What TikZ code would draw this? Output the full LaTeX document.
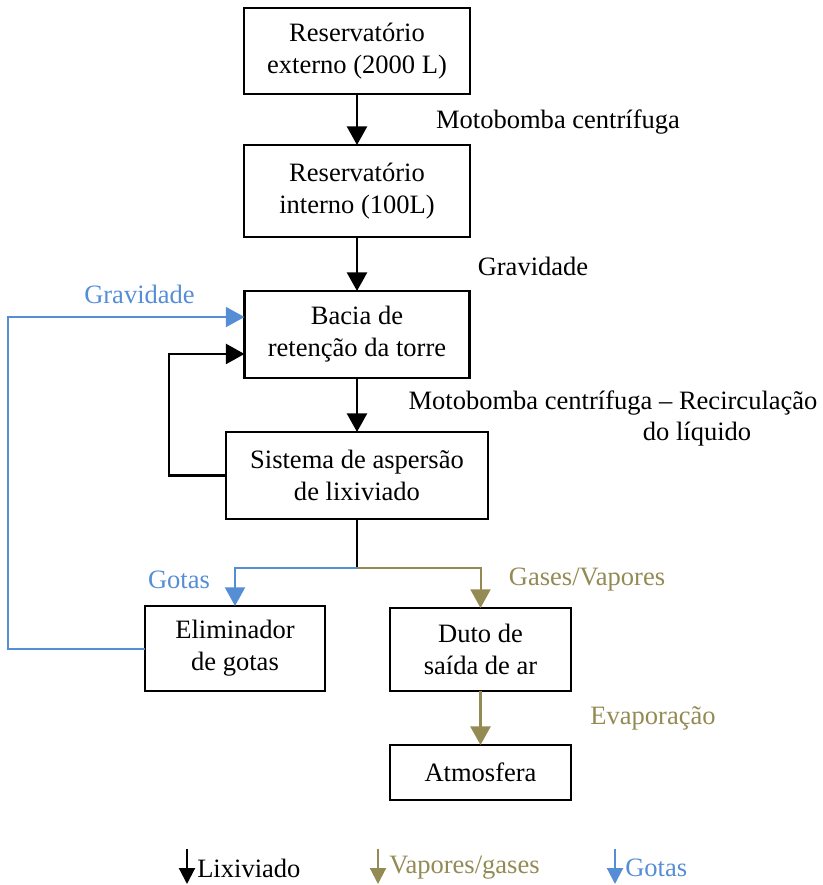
\documentclass[tikz,border=0pt]{standalone}
\usepackage{fontspec}
\setmainfont{Liberation Serif}
\usepackage{xcolor}
\usepackage{tikz}
\usetikzlibrary{arrows.meta}
\usetikzlibrary{positioning, calc}
\definecolor{gotas}{RGB}{85,142,213}
\definecolor{vapor}{RGB}{148,138,84}
\begin{document}
\begin{tikzpicture}[x=0.75pt, y=-0.75pt,
    box/.style={draw, line width=1.6pt, inner sep=0pt, outer sep=0pt, align=center, font=\fontsize{19.9}{24}\selectfont},
    lbl/.style={inner sep=0pt, align=center, font=\fontsize{19.9}{24}\selectfont},
    flow/.style={line width=2pt, -{Triangle[width=15pt,length=14pt]}},
    thin flow/.style={line width=1.5pt, -{Triangle[width=15pt,length=14pt]}},
    key/.style={line width=1.6pt, -{Triangle[width=12pt,length=12pt]}}]
    \useasboundingbox (0,0) rectangle (822,885);

    \begin{scope}[every node/.style={box}]
    \node[minimum width=169.5pt, minimum height=64.5pt] (RE) at (357,51) {Reservatório\\externo (2000 L)};
    \node[minimum width=169.5pt, minimum height=69pt] (RI) at (357,191) {Reservatório\\interno (100L)};
    \node[minimum width=168.75pt, minimum height=65.25pt] (BT) at (357,334.5) {Bacia de\\retenção da torre};
    \node[minimum width=196.5pt, minimum height=65.25pt] (SA) at (357,475.5) {Sistema de aspersão\\de lixiviado};
    \node[minimum width=135pt, minimum height=63.75pt] (EG) at (235,648.5) {Eliminador\\de gotas};
    \node[minimum width=135.75pt, minimum height=62.25pt] (DS) at (480.5,649.5) {Duto de\\saída de ar};
    \node[minimum width=135.75pt, minimum height=41.25pt] (AT) at (480.5,772.5) {Atmosfera};
    \end{scope}

    \begin{scope}[every node/.style={lbl}]
    \node (M1) at (558,122) {Motobomba centrífuga};
    \node (G1) at (533,266) {Gravidade};
    \node[gotas] (G2) at (139.5,294) {Gravidade};
    \node (M2) at (613,403) {Motobomba centrífuga – Recirculação};
    \node (M3) at (697,434) {do líquido};
    \node[gotas] (GT) at (179,580) {Gotas};
    \node[vapor] (GV) at (587,580) {Gases/Vapores};
    \node[vapor] (EV) at (653,718) {Evaporação};
    \end{scope}

    \draw[flow] (RE) -- (RI);
    \draw[flow] (RI) -- (BT);
    \draw[flow] (BT) -- (SA);
    \draw[flow] (SA.west) -- ++(-57,0) |- ([yshift=-14.6pt]BT.west);
    \draw[line width=1.6pt] (SA.south) -- ++(0,49) coordinate (J);
    \draw[thin flow, gotas] (J) -| (EG.north);
    \draw[thin flow, vapor] (J) -| (DS.north);
    \draw[flow, vapor] (DS) -- (AT);
    \draw[thin flow, gotas] (EG.west) -- ++(-137,0) |- ([yshift=13.1pt]BT.west);

    % legenda
    \coordinate (K1) at (187,849);
    \coordinate (K2) at (378,849);
    \coordinate (K3) at (615,849);
    \draw[key] (K1) -- ++(0,35);
    \draw[key, vapor] (K2) -- ++(0,35);
    \draw[key, gotas] (K3) -- ++(0,35);
    \node[lbl, anchor=west] (L1) at (197,868) {Lixiviado};
    \node[lbl, anchor=west, vapor] (L2) at (389,868) {Vapores/gases};
    \node[lbl, anchor=west, gotas] (L3) at (625,868) {Gotas};
\end{tikzpicture}
\end{document}
